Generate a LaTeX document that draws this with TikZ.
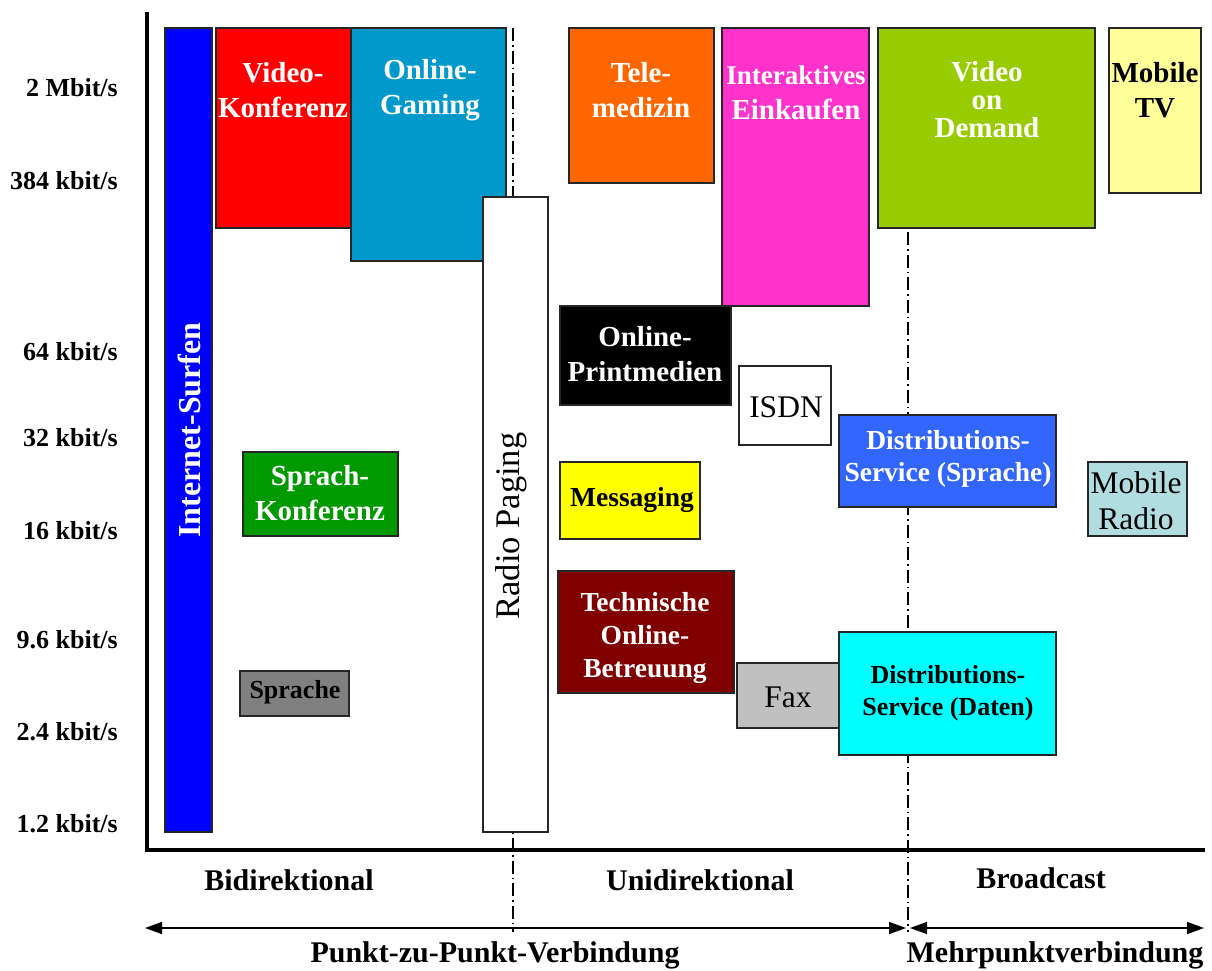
\documentclass[tikz,border=0pt]{standalone}
\usepackage{fontspec}
\setmainfont{Liberation Serif}
\usetikzlibrary{arrows.meta,fit}
\definecolor{cBlue}{RGB}{0,0,255}
\definecolor{cRed}{RGB}{255,0,0}
\definecolor{cTeal}{RGB}{0,153,204}
\definecolor{cOrange}{RGB}{255,102,0}
\definecolor{cMagenta}{RGB}{255,51,204}
\definecolor{cLime}{RGB}{153,204,0}
\definecolor{cPaleYellow}{RGB}{255,255,153}
\definecolor{cMidBlue}{RGB}{51,102,255}
\definecolor{cPowder}{RGB}{178,221,224}
\definecolor{cGreen}{RGB}{0,153,0}
\definecolor{cYellow}{RGB}{255,255,0}
\definecolor{cMaroon}{RGB}{128,0,0}
\definecolor{cSilver}{RGB}{192,192,192}
\definecolor{cCyan}{RGB}{0,255,255}
\definecolor{cGray}{RGB}{128,128,128}
\tikzset{
  box/.style={draw=black!85, line width=1.4pt, inner sep=0pt, rectangle},
  axisline/.style={line width=4.5pt, black},
  dashdot/.style={line width=1.3pt, black, dash pattern=on 13pt off 4pt on 1.5pt off 4pt},
  rate/.style={font=\fontsize{26}{30}\selectfont\bfseries, anchor=east, inner sep=0pt},
  lbl/.style={font=\fontsize{29}{35}\selectfont\bfseries, align=center, inner sep=0pt},
  lblr/.style={font=\fontsize{31.5}{36}\selectfont, align=center, inner sep=0pt},
  cat/.style={font=\fontsize{30}{36}\selectfont\bfseries, inner sep=0pt},
  dblarrow/.style={line width=1.4pt, {Triangle[length=17pt,width=12pt]}-{Triangle[length=17pt,width=12pt]}}
}
\begin{document}
\begin{tikzpicture}[x=1pt,y=-1pt]
\useasboundingbox (0,0) rectangle (1212,970);
% dash-dot separators (behind boxes)
\coordinate (d1top) at (513,28);
\coordinate (d1bot) at (513,932);
\coordinate (d2top) at (908,232);
\coordinate (d2bot) at (908,932);
\draw[dashdot] (d1top) -- (d1bot);
\draw[dashdot] (d2top) -- (d2bot);
% axes
\coordinate (ytop) at (147,12);
\coordinate (orig) at (147,850);
\coordinate (xstart) at (145,850);
\coordinate (xend) at (1205,850);
\draw[axisline] (ytop) -- (orig);
\draw[axisline] (xstart) -- (xend);
% boxes
\node[box, fill=cBlue, fit={(165,28)(212,832)}] (surf) {};
\node[box, fill=cRed, fit={(216,28)(351,228)}] (vk) {};
\node[box, fill=cTeal, fit={(351,28)(506,261)}] (og) {};
\node[box, fill=white, fit={(483,197)(548,832)}] (rp) {};
\node[box, fill=cOrange, fit={(569,28)(714,183)}] (tm) {};
\node[box, fill=cMagenta, fit={(722,28)(869,306)}] (ie) {};
\node[box, fill=cLime, fit={(878,28)(1095,228)}] (vod) {};
\node[box, fill=cPaleYellow, fit={(1109,28)(1201,193)}] (mtv) {};
\node[box, fill=black, fit={(560,306)(731,405)}] (opm) {};
\node[box, fill=white, fit={(739,366)(831,445)}] (isdn) {};
\node[box, fill=cMidBlue, fit={(839,415)(1056,507)}] (dss) {};
\node[box, fill=cPowder, fit={(1088,462)(1187,536)}] (mr) {};
\node[box, fill=cGreen, fit={(243,452)(398,536)}] (sk) {};
\node[box, fill=cYellow, fit={(560,462)(700,539)}] (msg) {};
\node[box, fill=cMaroon, fit={(558,571)(734,693)}] (tob) {};
\node[box, fill=cSilver, fit={(737,663)(839,728)}] (fax) {};
\node[box, fill=cCyan, fit={(839,632)(1056,755)}] (dsd) {};
\node[box, fill=cGray, fit={(240,671)(349,716)}] (spr) {};
% box labels
\node[lbl, text=white, font=\fontsize{32}{36}\selectfont\bfseries, rotate=90] (surf-t) at (189,430) {Internet-Surfen};
\node[lbl, text=white] (vk-t) at (283,90) {Video-\\Konferenz};
\node[lbl, text=white] (og-t) at (430,90) {Online-\\Gaming};
\node[lblr, rotate=90, font=\fontsize{34.5}{36}\selectfont] (rp-t) at (511,526) {Radio Paging};
\node[lbl, text=white] (tm-t) at (641,90) {Tele-\\medizin};
\node[lbl, text=white, align=center] (ie-t) at (796,93) {{\fontsize{27}{34}\selectfont Interaktives}\\Einkaufen};
\node[lbl, text=white, font=\fontsize{29}{28}\selectfont\bfseries] (vod-t) at (987,100) {Video\\on\\Demand};
\node[lbl, font=\fontsize{29}{35}\selectfont\bfseries] (mtv-t) at (1155,90) {Mobile\\TV};
\node[lbl, text=white] (opm-t) at (645,354) {Online-\\Printmedien};
\node[lblr] (isdn-t) at (786,407) {ISDN};
\node[lbl, text=white, font=\fontsize{27.5}{32}\selectfont\bfseries] (dss-t) at (948,459) {Distributions-\\Service (Sprache)};
\node[lblr, font=\fontsize{31.5}{36}\selectfont] (mr-t) at (1136,501) {Mobile\\Radio};
\node[lbl, text=white] (sk-t) at (320,493) {Sprach-\\Konferenz};
\node[lbl, font=\fontsize{27.5}{30}\selectfont\bfseries] (msg-t) at (632,500) {Messaging};
\node[lbl, text=white, font=\fontsize{27.5}{33}\selectfont\bfseries] (tob-t) at (645,638) {Technische\\Online-\\Betreuung};
\node[lblr] (fax-t) at (788,697) {Fax};
\node[lbl, font=\fontsize{26}{32}\selectfont\bfseries] (dsd-t) at (948,693) {Distributions-\\Service (Daten)};
\node[lbl, font=\fontsize{26}{30}\selectfont\bfseries] (spr-t) at (295,692) {Sprache};
% rate labels
\node[rate] (r1) at (118,88) {2 Mbit/s};
\node[rate] (r2) at (118,181) {384 kbit/s};
\node[rate] (r3) at (118,352) {64 kbit/s};
\node[rate] (r4) at (118,438) {32 kbit/s};
\node[rate] (r5) at (118,531) {16 kbit/s};
\node[rate] (r6) at (118,640) {9.6 kbit/s};
\node[rate] (r7) at (118,732) {2.4 kbit/s};
\node[rate] (r8) at (118,824) {1.2 kbit/s};
% categories
\node[cat] (bidi) at (289,880) {Bidirektional};
\node[cat] (unidi) at (700,880) {Unidirektional};
\node[cat] (bc) at (1041,878) {Broadcast};
% arrows
\coordinate (aL) at (145,928);
\coordinate (aM1) at (906,928);
\coordinate (aM2) at (910,928);
\coordinate (aR) at (1204,928);
\draw[dblarrow] (aL) -- (aM1);
\draw[dblarrow] (aM2) -- (aR);
\node[cat] (ptp) at (495,955) {Punkt-zu-Punkt-Verbindung};
\node[cat] (mp) at (1055,955) {Mehrpunktverbindung};
\end{tikzpicture}
\end{document}
